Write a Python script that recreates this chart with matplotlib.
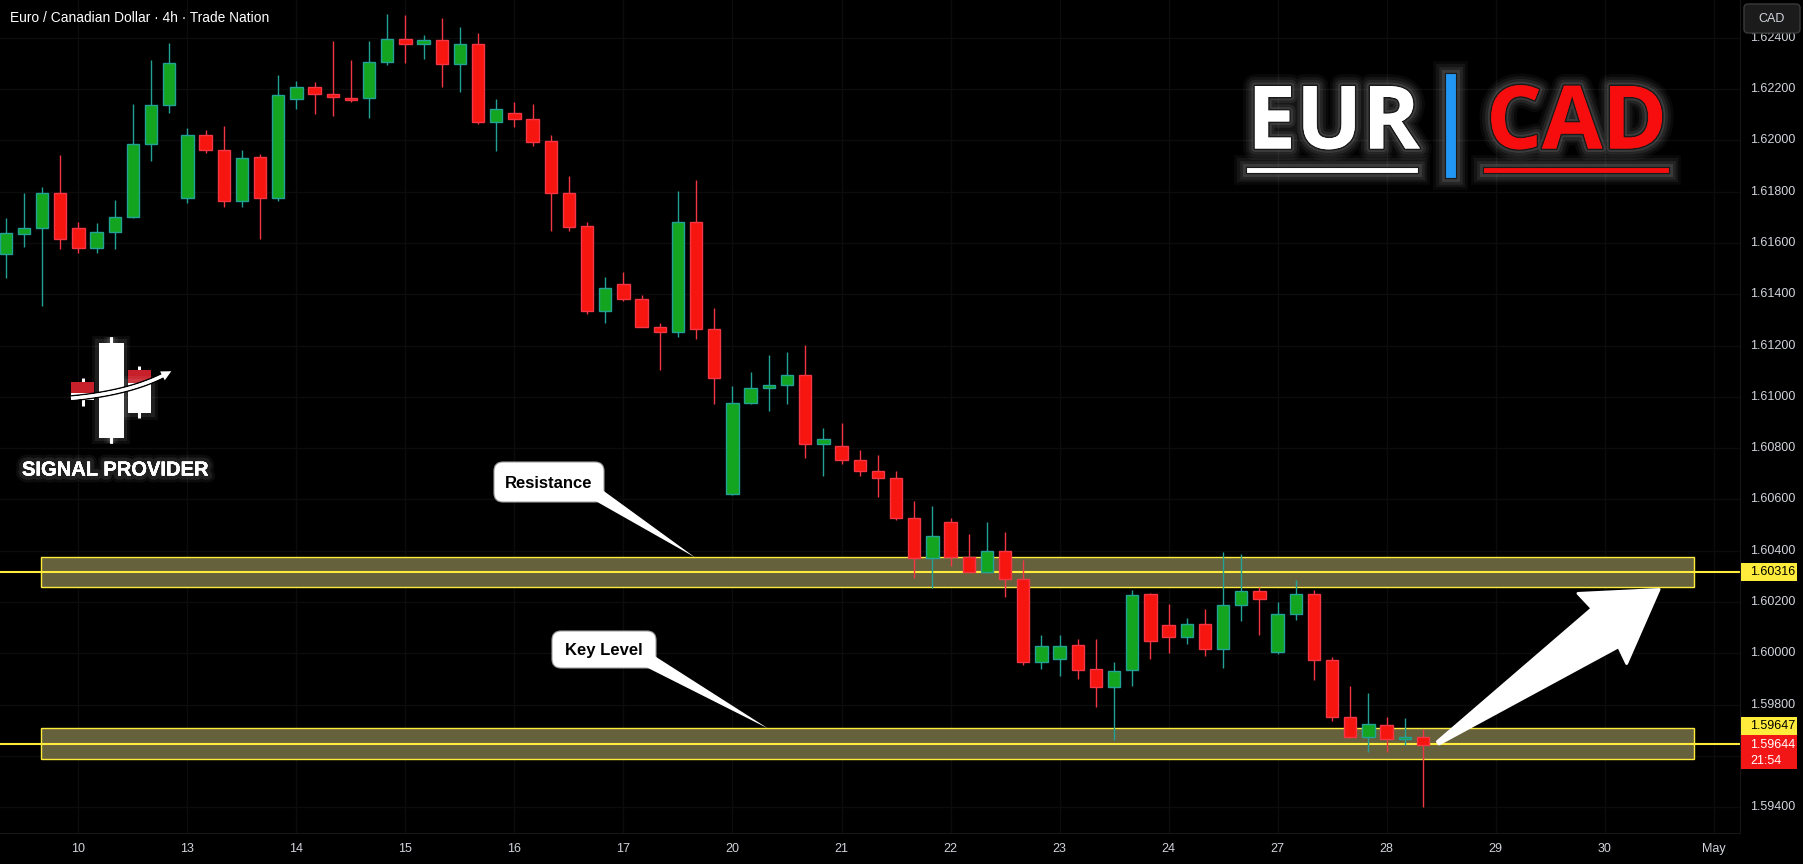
import numpy as np
import matplotlib
matplotlib.use("Agg")
import matplotlib.pyplot as plt
import matplotlib.patheffects as pe
from matplotlib.patches import Rectangle, FancyBboxPatch, Polygon

# ============================================================
# Data (EUR/CAD 4h candles)
# ============================================================

opens = [1.61556, 1.61633, 1.61657, 1.61793, 1.61657, 1.61579, 1.61642, 1.61700, 1.61985, 1.62136,
         1.61777, 1.62020, 1.61964, 1.61762, 1.61933, 1.61777, 1.62160, 1.62209, 1.62180, 1.62165,
         1.62163, 1.62304, 1.62394, 1.62374, 1.62390, 1.62296, 1.62374, 1.62072, 1.62105, 1.62082,
         1.61996, 1.61793, 1.61665, 1.61334, 1.61438, 1.61380, 1.61274, 1.61251, 1.61681, 1.61263,
         1.60620, 1.60975, 1.61033, 1.61045, 1.61084, 1.60815, 1.60807, 1.60752, 1.60709, 1.60682,
         1.60526, 1.60370, 1.60511, 1.60374, 1.60318, 1.60397, 1.60289, 1.59965, 1.59979, 1.60031,
         1.59938, 1.59870, 1.59933, 1.60230, 1.60110, 1.60064, 1.60113, 1.60018, 1.60187, 1.60241,
         1.60004, 1.60152, 1.60230, 1.59973, 1.59751, 1.59672, 1.59719, 1.59665, 1.59673]
highs = [1.61696, 1.61794, 1.61817, 1.61942, 1.61681, 1.61677, 1.61767, 1.62140, 1.62315, 1.62378,
         1.62047, 1.62040, 1.62056, 1.61962, 1.61945, 1.62253, 1.62231, 1.62226, 1.62386, 1.62315,
         1.62387, 1.62492, 1.62488, 1.62411, 1.62476, 1.62442, 1.62418, 1.62161, 1.62150, 1.62141,
         1.62021, 1.61861, 1.61682, 1.61468, 1.61487, 1.61397, 1.61288, 1.61803, 1.61846, 1.61346,
         1.61042, 1.61096, 1.61163, 1.61175, 1.61202, 1.60878, 1.60898, 1.60793, 1.60774, 1.60711,
         1.60594, 1.60574, 1.60526, 1.60465, 1.60512, 1.60473, 1.60362, 1.60071, 1.60071, 1.60055,
         1.60055, 1.59965, 1.60246, 1.60237, 1.60192, 1.60138, 1.60173, 1.60395, 1.60387, 1.60259,
         1.60200, 1.60286, 1.60246, 1.59986, 1.59872, 1.59845, 1.59752, 1.59748, 1.59703]
lows = [1.61462, 1.61585, 1.61355, 1.61577, 1.61559, 1.61559, 1.61575, 1.61698, 1.61920, 1.62107,
        1.61754, 1.61951, 1.61741, 1.61739, 1.61614, 1.61764, 1.62121, 1.62103, 1.62096, 1.62150,
        1.62088, 1.62292, 1.62302, 1.62318, 1.62209, 1.62190, 1.62065, 1.61959, 1.62053, 1.61978,
        1.61648, 1.61648, 1.61324, 1.61288, 1.61375, 1.61272, 1.61105, 1.61234, 1.61226, 1.60973,
        1.60618, 1.60973, 1.60945, 1.60970, 1.60762, 1.60692, 1.60739, 1.60692, 1.60611, 1.60521,
        1.60295, 1.60255, 1.60342, 1.60316, 1.60314, 1.60220, 1.59956, 1.59940, 1.59912, 1.59901,
        1.59792, 1.59663, 1.59873, 1.59979, 1.60002, 1.60037, 1.59991, 1.59944, 1.60127, 1.60072,
        1.59998, 1.60131, 1.59897, 1.59737, 1.59670, 1.59617, 1.59617, 1.59641, 1.59400]
closes = [1.61638, 1.61657, 1.61793, 1.61614, 1.61579, 1.61642, 1.61700, 1.61985, 1.62136, 1.62300,
          1.62020, 1.61964, 1.61762, 1.61930, 1.61777, 1.62178, 1.62209, 1.62180, 1.62168, 1.62159,
          1.62304, 1.62394, 1.62374, 1.62390, 1.62296, 1.62374, 1.62072, 1.62121, 1.62082, 1.61995,
          1.61793, 1.61663, 1.61334, 1.61423, 1.61382, 1.61274, 1.61251, 1.61681, 1.61263, 1.61072,
          1.60975, 1.61033, 1.61045, 1.61084, 1.60815, 1.60834, 1.60752, 1.60709, 1.60682, 1.60526,
          1.60370, 1.60456, 1.60374, 1.60318, 1.60397, 1.60289, 1.59965, 1.60027, 1.60027, 1.59936,
          1.59870, 1.59930, 1.60226, 1.60047, 1.60064, 1.60113, 1.60018, 1.60187, 1.60241, 1.60213,
          1.60152, 1.60230, 1.59973, 1.59751, 1.59672, 1.59723, 1.59665, 1.59672, 1.59644]

day_labels = ['10', '13', '14', '15', '16', '17', '20', '21', '22', '23',
              '24', '27', '28', '29', '30', 'May']
day_label_pos = list(range(4, 4 + 6 * len(day_labels), 6))   # candle index of each label

price_ticks = [1.594, 1.596, 1.598, 1.600, 1.602, 1.604, 1.606, 1.608,
               1.610, 1.612, 1.614, 1.616, 1.618, 1.620, 1.622, 1.624]
hidden_ticks = [1.596]     # covered by the live price tag on the scale

resistance_level = 1.60316
resistance_zone = (1.60257, 1.60374)
key_level = 1.59647
key_zone = (1.59587, 1.59707)
zone_span = (1.96, 92.93)          # candle index range of the boxes
last_price = 1.59644
countdown = "21:54"
arrow_from = (78.84, 1.59651)      # (candle index, price)
arrow_to = (91.0, 1.60249)

# ============================================================
# Style
# ============================================================

W, H = 1803, 864
BG = "#000000"
TXT = "#d1d4dc"
UP_FILL, UP_EDGE = "#13a520", "#22a196"
DN_FILL, DN_EDGE = "#f7150f", "#f23645"
YEL = "#ffeb3b"

plt.rcParams['font.family'] = ['Liberation Sans', 'DejaVu Sans']

fig = plt.figure(figsize=(W / 100, H / 100), dpi=100, facecolor=BG)
ax = fig.add_axes([0, 31 / H, 1740 / W, 833 / H])
ax.set_facecolor(BG)
ax.set_xlim(-0.314, 95.45)
ax.set_ylim(1.592994, 1.625470)
ax.set_axisbelow(True)

# ============================================================
# Candles
# ============================================================

o = np.array(opens)
h = np.array(highs)
l = np.array(lows)
c = np.array(closes)
x = np.arange(len(o))
up = c >= o
bottom = np.minimum(o, c)
height = np.maximum(np.abs(c - o), 0.00007)

ax.vlines(x[up], l[up], h[up], color=UP_EDGE, lw=1.0, zorder=3)
ax.vlines(x[~up], l[~up], h[~up], color=DN_EDGE, lw=1.0, zorder=3)
ax.bar(x[up], height[up], bottom=bottom[up], width=0.68,
       color=UP_FILL, edgecolor=UP_EDGE, linewidth=1.0, zorder=4)
ax.bar(x[~up], height[~up], bottom=bottom[~up], width=0.68,
       color=DN_FILL, edgecolor=DN_EDGE, linewidth=1.0, zorder=4)

# zones + levels
for lo, hi in (resistance_zone, key_zone):
    ax.add_patch(Rectangle((zone_span[0], lo), zone_span[1] - zone_span[0], hi - lo,
                           facecolor="#66613d", edgecolor=YEL, lw=1.0, zorder=1))
for lev in (resistance_level, key_level):
    ax.axhline(lev, color=YEL, lw=1.5, zorder=2)

# axes
ax.set_xticks(day_label_pos)
ax.set_xticklabels(day_labels)
ax.set_yticks(price_ticks)
ax.set_yticklabels(["" if v in hidden_ticks else f"{v:.5f}" for v in price_ticks])
ax.yaxis.tick_right()
ax.tick_params(length=0, colors=TXT, labelsize=9)
ax.tick_params(axis='y', pad=7)
ax.tick_params(axis='x', pad=7)
for t in ax.get_yticklabels():
    t.set_va('center')
ax.grid(True, color="#0c0c0c", lw=1)
for s in ax.spines.values():
    s.set_visible(False)
ax.spines['right'].set_visible(True)
ax.spines['right'].set_color("#161616")
ax.spines['bottom'].set_visible(True)
ax.spines['bottom'].set_color("#161616")

# ============================================================
# Overlay in pixel coordinates (labels, logos, arrow)
# ============================================================

ov = fig.add_axes([0, 0, 1, 1], zorder=10)
ov.set_xlim(0, W)
ov.set_ylim(H, 0)
ov.axis('off')
ov.patch.set_alpha(0)


def to_px(i, p):
    dx, dy = ax.transData.transform((i, p))
    return dx, H - dy


ov.text(10, 18, "Euro / Canadian Dollar · 4h · Trade Nation", color="white",
        fontsize=9.9, va='center', ha='left')

# CAD currency box
ov.add_patch(FancyBboxPatch((1744, 4), 56, 29, boxstyle="round,pad=0,rounding_size=4",
                            facecolor="#1b1b1b", edgecolor="#3a3a3a", lw=1, zorder=5))
ov.text(1772, 18.5, "CAD", color=TXT, fontsize=9, ha='center', va='center', zorder=6)

# price tags on the scale
_, y_res = to_px(0, resistance_level)
_, y_last = to_px(0, last_price)
ov.add_patch(Rectangle((1741, y_res - 9), 56, 18, facecolor=YEL, edgecolor='none', zorder=5))
ov.text(1750, y_res, f"{resistance_level:.5f}", color="black", fontsize=9, va='center', zorder=6)
red_top = y_last - 10
ov.add_patch(Rectangle((1741, red_top), 56, 34, facecolor="#f21616", edgecolor='none', zorder=5))
ov.text(1750, y_last, f"{last_price:.5f}", color="white", fontsize=9, va='center', zorder=6)
ov.text(1750, y_last + 16, countdown, color="white", fontsize=9, va='center', zorder=6)
ov.add_patch(Rectangle((1741, red_top - 17.5), 56, 17.5, facecolor=YEL, edgecolor='none', zorder=5))
ov.text(1750, red_top - 8.7, f"{key_level:.5f}", color="black", fontsize=9, va='center', zorder=6)

# callouts
_, y_res_top = to_px(0, resistance_zone[1])
_, y_key_top = to_px(0, key_zone[1])
callouts = [("Resistance", (494, 462, 110, 40), (596, 502, 604, 492), (695, y_res_top)),
            ("Key Level", (552, 631, 104, 37), (646, 668, 656, 658), (768, y_key_top))]
for label, (bx, by, bw, bh), (ax1, ay1, ax2, ay2), tip in callouts:
    ov.add_patch(FancyBboxPatch((bx, by), bw, bh, boxstyle="round,pad=0,rounding_size=9",
                                facecolor="white", edgecolor="#a0a0a0", lw=0.8, zorder=5))
    ov.add_patch(Polygon([(ax1 - 4, ay1 - 3), (ax2 - 3, ay2 - 3), tip], closed=True,
                         facecolor="white", edgecolor="none", zorder=6))
    ov.text(bx + bw / 2, by + bh / 2 + 1, label, color="black", fontsize=12,
            fontweight='bold', ha='center', va='center', zorder=7)

# big arrow from key level towards resistance
tail = np.array(to_px(*arrow_from))
tip = np.array(to_px(*arrow_to))
L = np.linalg.norm(tip - tail)
u = (tip - tail) / L
n = np.array([-u[1], u[0]])
shape = [(0, -1.5), (L - 66, -22.7), (L - 69, -43.1), (L, 0),
         (L - 69, 42.4), (L - 66, 24.0), (0, 1.5)]
pts = [tail + a * u + b * n for a, b in shape]
ov.add_patch(Polygon(pts, closed=True, facecolor="white", edgecolor="white",
                     lw=2, joinstyle='round', zorder=6))

# EUR | CAD logo
glow = [pe.withStroke(linewidth=w, foreground=(1, 1, 1, a))
        for w, a in [(17, 0.04), (13, 0.05), (9, 0.07), (5, 0.1)]]
txt_fx = glow + [pe.withStroke(linewidth=2.2, foreground="#1a1a1a"), pe.Normal()]
ov.text(1333.4, 148.5, "EUR", color="white", fontsize=63, fontweight='bold',
        family='Open Sans', ha='center', va='baseline', path_effects=txt_fx, zorder=7)
ov.text(1576.7, 148.5, "CAD", color="#f70d0d", fontsize=63, fontweight='bold',
        family='Open Sans', ha='center', va='baseline', path_effects=txt_fx, zorder=7)
bar_fx = glow + [pe.Normal()]
ov.add_patch(Rectangle((1246, 166.7), 172.3, 6.6, facecolor="white", edgecolor="#1a1a1a",
                       lw=0.8, path_effects=bar_fx, zorder=7))
ov.add_patch(Rectangle((1483, 167), 186, 6.3, facecolor="#f70d0d", edgecolor="#1a1a1a",
                       lw=0.8, path_effects=bar_fx, zorder=7))
ov.add_patch(Rectangle((1445, 73.3), 11, 105, facecolor="#2196f3", edgecolor="#1a1a1a",
                       lw=0.8, path_effects=bar_fx, zorder=7))

# SIGNAL PROVIDER logo
soft = [pe.withStroke(linewidth=w, foreground=(1, 1, 1, a)) for w, a in [(10, 0.05), (6, 0.08)]]
ov.plot([111, 111], [336.7, 443.3], color="white", lw=2.2, solid_capstyle='butt',
        path_effects=soft + [pe.Normal()], zorder=6)
ov.plot([82.7, 82.7], [378, 406], color="white", lw=2.2, solid_capstyle='butt', zorder=6)
ov.plot([139.3, 139.3], [366, 418.3], color="white", lw=2.2, solid_capstyle='butt', zorder=6)
ov.add_patch(Rectangle((99.3, 343.3), 23.4, 93.4, facecolor="white", edgecolor="white",
                       lw=0.5, path_effects=soft + [pe.Normal()], zorder=6))
ov.add_patch(Rectangle((71, 381.7), 23.3, 11, facecolor="#c8202a", edgecolor="none", zorder=6))
ov.add_patch(Rectangle((71, 392.7), 23.3, 7.3, facecolor="white", edgecolor="none", zorder=6))
ov.add_patch(Rectangle((127.7, 370), 23.3, 13.3, facecolor="#c8202a", edgecolor="none", zorder=6))
ov.add_patch(Rectangle((127.7, 383.3), 23.3, 30, facecolor="white", edgecolor="none",
                       path_effects=soft + [pe.Normal()], zorder=6))
t = np.linspace(0, 1, 40)
p0, p1, p2 = np.array([71, 398.3]), np.array([130, 393]), np.array([166, 374])
curve = np.outer((1 - t) ** 2, p0) + np.outer(2 * (1 - t) * t, p1) + np.outer(t ** 2, p2)
ov.plot(curve[:, 0], curve[:, 1], color="white", lw=2.3, solid_capstyle='butt',
        path_effects=[pe.withStroke(linewidth=4.5, foreground="black"), pe.Normal()], zorder=7)
d = (p2 - p1) / np.linalg.norm(p2 - p1)
nn = np.array([-d[1], d[0]])
head_tip = p2 + d * 6
ov.add_patch(Polygon([head_tip, p2 - d * 4 + nn * 5, p2 - d * 4 - nn * 5], closed=True,
                     facecolor="white", edgecolor="none", zorder=7))
ov.text(115.5, 470, "SIGNAL PROVIDER", color="white", fontsize=14.5, fontweight='bold',
        family='Liberation Sans', ha='center', va='center',
        path_effects=soft + [pe.Normal()], zorder=7)

fig.savefig("out.png", dpi=100, facecolor=BG)
print("Done.")
